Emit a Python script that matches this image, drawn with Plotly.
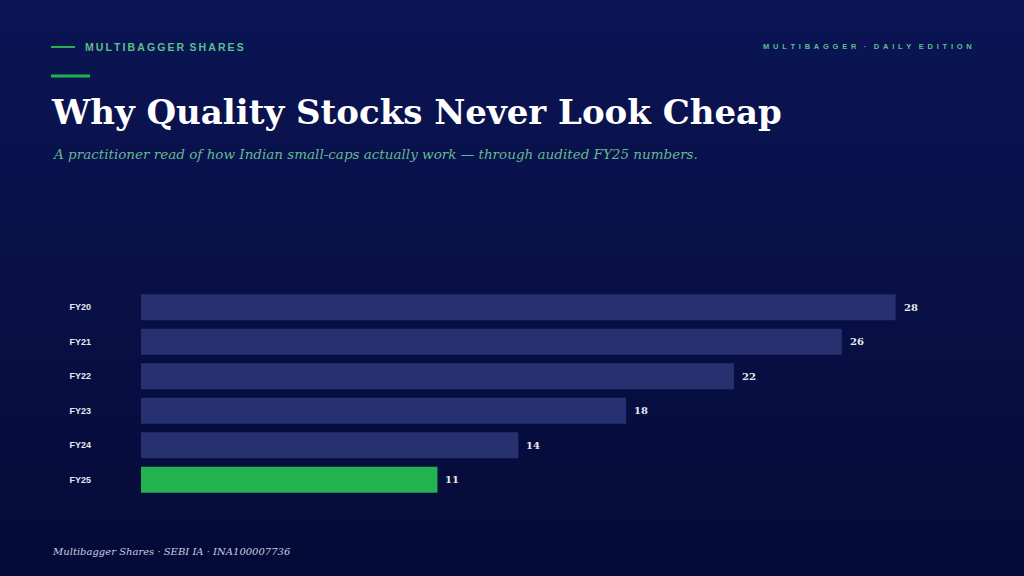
import plotly.graph_objects as go

# data
years = ["FY20", "FY21", "FY22", "FY23", "FY24", "FY25"]
values = [28, 26, 22, 18, 14, 11]
highlight = "FY25"

BG_TOP = (11, 21, 84)
BG_BOT = (5, 11, 56)
BAR = "#27316f"
GREEN = "#22b24f"
ACCENT = "#5cbf8c"
SUB = "#66b890"

SERIF = "DejaVu Serif, Liberation Serif, serif"
SANS = "Liberation Sans, Arial, sans-serif"

W, H = 1024, 576
L, R, T, B = 141, 68, 290, 79


def px(x, y):
    # page pixel -> paper coords
    return (x - L) / (W - L - R), (H - B - y) / (H - T - B)


def spaced(s, gap="\u2009"):
    return gap.join(s)


colors = [GREEN if y == highlight else BAR for y in years]

fig = go.Figure()
fig.add_trace(go.Bar(
    x=values, y=years, orientation="h",
    marker=dict(color=colors, line_width=0),
    hoverinfo="skip",
))

# vertical gradient background made of thin bands
shapes = []
n = 72
for i in range(n):
    t = i / (n - 1)
    c = tuple(round(a + (b - a) * t) for a, b in zip(BG_TOP, BG_BOT))
    _, ya = px(0, i * H / n - 1)
    _, yb = px(0, (i + 1) * H / n + 1)
    shapes.append(dict(type="rect", xref="paper", yref="paper", layer="below",
                       x0=-1, x1=2, y0=yb, y1=ya,
                       fillcolor="rgb(%d,%d,%d)" % c, line_width=0))

for (xa, xb, yy, w) in [(51, 75, 47, 2), (51, 90, 76, 3)]:
    a, y0 = px(xa, yy)
    b, _ = px(xb, yy)
    shapes.append(dict(type="line", xref="paper", yref="paper", x0=a, x1=b, y0=y0, y1=y0,
                       line=dict(color=GREEN, width=w)))

annotations = []


def note(text, x, y, size, color, family, xanchor="left", weight="normal", style="normal"):
    ax, ay = px(x, y)
    annotations.append(dict(text=text, x=ax, y=ay, xref="paper", yref="paper",
                            xanchor=xanchor, yanchor="middle", showarrow=False,
                            font=dict(family=family, size=size, color=color,
                                      weight=weight, style=style)))


note(spaced("MULTIBAGGER") + "\u2002" + spaced("SHARES"), 83, 47, 10.5, ACCENT, SANS, weight="bold")
note(spaced("MULTIBAGGER", "\u2002") + "\u2003·\u2003" + spaced("DAILY", "\u2002") + "\u2003"
     + spaced("EDITION", "\u2002"), 974, 46, 7.5, ACCENT, SANS, xanchor="right", weight="bold")
note("Why Quality Stocks Never Look Cheap", 49, 112, 34, "#ffffff", SERIF, weight="bold")
note("A practitioner read of how Indian small-caps actually work — through audited FY25 numbers.",
     50, 154, 13.5, SUB, SERIF, style="italic")
note("Multibagger Shares · SEBI IA · INA100007736", 50, 551, 10, "#c9cce0", SERIF, style="italic")

# value labels next to each bar end
for yr, v in zip(years, values):
    annotations.append(dict(text=str(v), x=v, y=yr, xref="x", yref="y", xanchor="left",
                            xshift=6, showarrow=False,
                            font=dict(family=SERIF, size=10, color="#e6e8f2", weight="bold")))

fig.update_layout(
    width=W, height=H,
    margin=dict(l=L, r=R, t=T, b=B),
    paper_bgcolor="rgb(8,16,70)",
    plot_bgcolor="rgba(0,0,0,0)",
    showlegend=False,
    bargap=0.24,
    shapes=shapes,
    annotations=annotations,
    xaxis=dict(range=[0, 30.24], visible=False, fixedrange=True),
    yaxis=dict(autorange="reversed", showgrid=False, zeroline=False, showline=False,
               ticks="", ticklabelstandoff=49, fixedrange=True,
               tickfont=dict(family=SANS, size=9, color="#e6e8f2", weight="bold")),
)

fig.write_html("out.html", config=dict(displayModeBar=False),
               post_script="document.body.style.margin='0';")
